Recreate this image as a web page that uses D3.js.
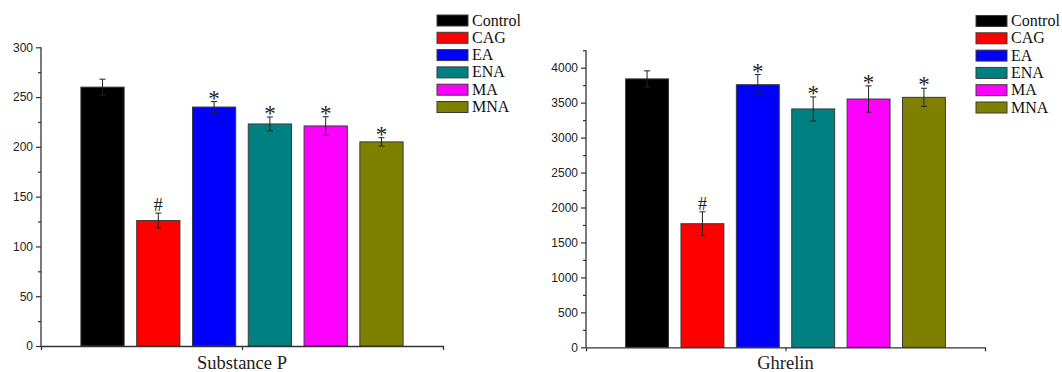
<!DOCTYPE html>
<html>
<head>
<meta charset="utf-8">
<script src="https://cdn.jsdelivr.net/npm/d3@7"></script>
<style>
  html, body { margin: 0; padding: 0; background: #fff; }
  svg { display: block; }
  .serif { font-family: "Liberation Serif", "Times New Roman", serif; }
  .sans { font-family: "Liberation Sans", Arial, sans-serif; }
</style>
</head>
<body>
<svg id="chart" width="1062" height="372"></svg>
<script>
// ---- data ----
const categories = ["Control", "CAG", "EA", "ENA", "MA", "MNA"];
const colors = ["#000000", "#ff0000", "#0000ff", "#008080", "#ff00ff", "#808000"];

const spTitle = "Substance P";
const spValues = [260, 126, 240, 223, 221, 205];
const spErrors = [8, 7.5, 5.5, 7, 9.3, 4.2];
const spMarks = ["", "#", "*", "*", "*", "*"];
const spTicks = [0, 50, 100, 150, 200, 250, 300];
const spMinor = [25, 75, 125, 175, 225, 275];

const ghTitle = "Ghrelin";
const ghValues = [3840, 1768, 3757, 3410, 3552, 3576];
const ghErrors = [115, 170, 145, 172, 188, 130];
const ghMarks = ["", "#", "*", "*", "*", "*"];
const ghTicks = [0, 500, 1000, 1500, 2000, 2500, 3000, 3500, 4000];
const ghMinor = [250, 750, 1250, 1750, 2250, 2750, 3250, 3750, 4250];

const svg = d3.select("#chart");

function panel(cfg) {
  const g = svg.append("g");
  const y = d3.scaleLinear().domain(cfg.domain).range([cfg.y0, cfg.y1]);
  const x = d3.scaleBand().domain(categories).range([cfg.x0, cfg.x1])
    .paddingInner(0.225).paddingOuter(0.715);

  // bars
  g.selectAll("rect.bar").data(categories).enter().append("rect")
    .attr("x", d => x(d))
    .attr("width", x.bandwidth())
    .attr("y", (d, i) => y(cfg.values[i]))
    .attr("height", (d, i) => y(0) - y(cfg.values[i]))
    .attr("fill", (d, i) => colors[i])
    .attr("stroke", "#3a3a3a")
    .attr("stroke-width", 1);

  // error bars
  const eb = g.selectAll("g.err").data(categories).enter().append("g")
    .attr("stroke", "#222").attr("stroke-width", 1);
  eb.append("line")
    .attr("x1", d => x(d) + x.bandwidth() / 2)
    .attr("x2", d => x(d) + x.bandwidth() / 2)
    .attr("y1", (d, i) => y(cfg.values[i] + cfg.errors[i]))
    .attr("y2", (d, i) => y(cfg.values[i] - cfg.errors[i]));
  [1, -1].forEach(s => {
    eb.append("line")
      .attr("x1", d => x(d) + x.bandwidth() / 2 - 3)
      .attr("x2", d => x(d) + x.bandwidth() / 2 + 3)
      .attr("y1", (d, i) => y(cfg.values[i] + s * cfg.errors[i]))
      .attr("y2", (d, i) => y(cfg.values[i] + s * cfg.errors[i]));
  });

  // significance marks
  g.selectAll("text.mark").data(categories).enter().append("text")
    .attr("class", "serif")
    .attr("x", d => x(d) + x.bandwidth() / 2)
    .attr("y", (d, i) => y(cfg.values[i] + cfg.errors[i]) + (cfg.marks[i] === "#" ? -2 : 4))
    .attr("text-anchor", "middle")
    .attr("font-size", (d, i) => cfg.marks[i] === "#" ? 18 : 23)
    .attr("fill", "#222")
    .text((d, i) => cfg.marks[i]);

  // y axis (major)
  const ya = g.append("g").attr("transform", `translate(${cfg.x0},0)`)
    .call(d3.axisLeft(y).tickValues(cfg.ticks).tickSize(5).tickSizeOuter(0).tickPadding(3)
      .tickFormat(d3.format("d")));
  ya.select(".domain").remove();
  ya.selectAll("text").attr("class", "sans").attr("font-family", null)
    .attr("font-size", 12).attr("fill", "#222");
  ya.selectAll("line").attr("stroke", "#333").attr("stroke-width", 1.2);
  // minor
  const ym = g.append("g").attr("transform", `translate(${cfg.x0},0)`)
    .call(d3.axisLeft(y).tickValues(cfg.minor).tickSize(3).tickSizeOuter(0).tickFormat(""));
  ym.select(".domain").remove();
  ym.selectAll("line").attr("stroke", "#333").attr("stroke-width", 1.2);
  g.append("line").attr("x1", cfg.x0).attr("x2", cfg.x0)
    .attr("y1", y(cfg.domain[1])).attr("y2", y(0))
    .attr("stroke", "#333").attr("stroke-width", 1.3);

  // x axis
  const xs = d3.scaleLinear().domain([0, 1]).range([cfg.x0, cfg.x1]);
  const xa = g.append("g").attr("transform", `translate(0,${y(0)})`)
    .call(d3.axisBottom(xs).tickValues([0.5]).tickSize(4).tickSizeOuter(4).tickFormat(""));
  xa.select(".domain").attr("stroke", "#333").attr("stroke-width", 1.3);
  xa.selectAll("line").attr("stroke", "#333").attr("stroke-width", 1.2);

  // axis title
  g.append("text")
    .attr("class", "serif")
    .attr("x", (cfg.x0 + cfg.x1) / 2)
    .attr("y", cfg.titleY)
    .attr("text-anchor", "middle")
    .attr("font-size", 18.5)
    .attr("fill", "#222")
    .text(cfg.title);

  // legend
  const lg = g.append("g");
  categories.forEach((c, i) => {
    const ty = cfg.legY + i * 17.3;
    lg.append("rect").attr("x", cfg.legX).attr("y", ty)
      .attr("width", 31).attr("height", 11)
      .attr("fill", colors[i]).attr("stroke", "#3a3a3a").attr("stroke-width", 1);
    lg.append("text").attr("class", "serif").attr("x", cfg.legX + 35).attr("y", ty + 10.5)
      .attr("font-size", 16).attr("fill", "#111")
      .text(c);
  });
}

panel({
  values: spValues, errors: spErrors, marks: spMarks, ticks: spTicks, minor: spMinor,
  domain: [0, 300], y0: 346, y1: 47.3, x0: 41, x1: 443,
  title: spTitle, titleY: 369, legX: 437, legY: 15
});
panel({
  values: ghValues, errors: ghErrors, marks: ghMarks, ticks: ghTicks, minor: ghMinor,
  domain: [0, 4250], y0: 347.3, y1: 347.3 - 4250 * (279.6 / 4000), x0: 586, x1: 985,
  title: ghTitle, titleY: 369, legX: 976, legY: 15.5
});
</script>
</body>
</html>
